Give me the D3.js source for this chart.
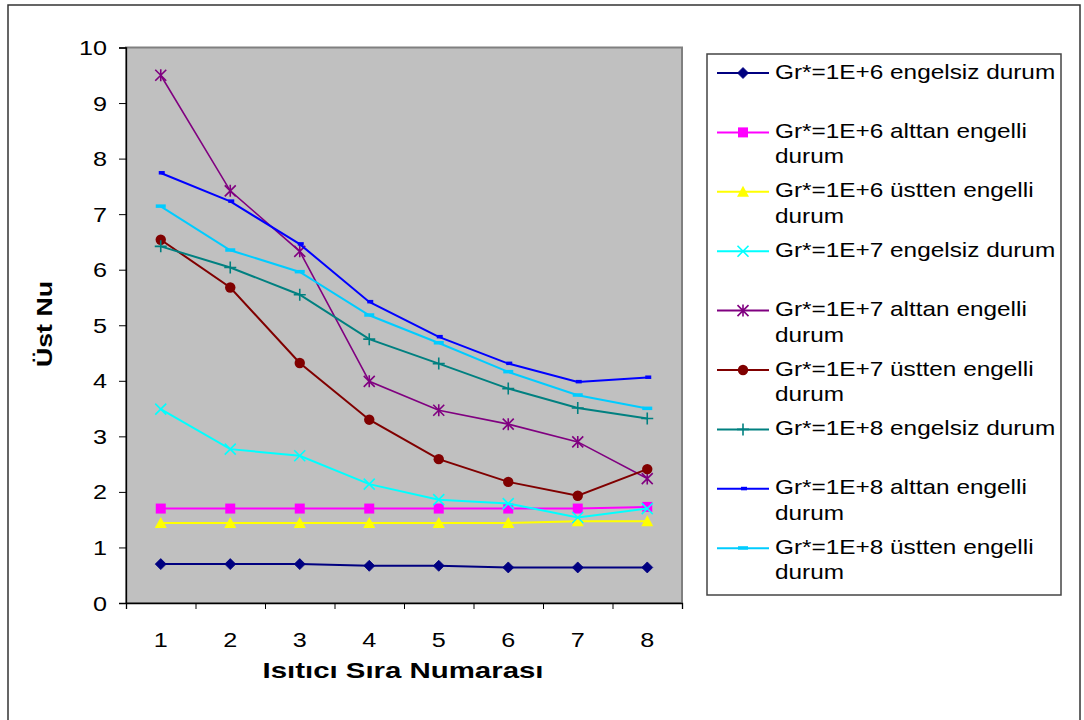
<!DOCTYPE html>
<html><head><meta charset="utf-8">
<script src="https://cdn.jsdelivr.net/npm/d3@7"></script>
<style>body{margin:0;background:#fff} svg{display:block} text{font-family:"Liberation Sans",Arial,sans-serif;fill:#000}</style>
</head><body><svg id="c" width="1084" height="720"></svg>
<script>
const categories = [1, 2, 3, 4, 5, 6, 7, 8];
const yTickValues = [0, 1, 2, 3, 4, 5, 6, 7, 8, 9, 10];
const xTitle = "Isıtıcı Sıra Numarası";
const yTitle = "Üst Nu";

const seriesNames = [
  "Gr*=1E+6 engelsiz durum",
  "Gr*=1E+6 alttan engelli durum",
  "Gr*=1E+6 üstten engelli durum",
  "Gr*=1E+7 engelsiz durum",
  "Gr*=1E+7 alttan engelli durum",
  "Gr*=1E+7 üstten engelli durum",
  "Gr*=1E+8 engelsiz durum",
  "Gr*=1E+8 alttan engelli durum",
  "Gr*=1E+8 üstten engelli durum"
];
const seriesColors = ["#000080", "#FF00FF", "#FFFF00", "#00FFFF", "#800080", "#800000", "#008080", "#0000FF", "#00CCFF"];
const seriesMarkers = ["diamond", "square", "triangle", "x", "star", "circle", "plus", "dashSmall", "dashWide"];

const gr6Engelsiz = [0.70, 0.70, 0.70, 0.67, 0.67, 0.64, 0.64, 0.64];
const gr6Alttan   = [1.70, 1.70, 1.70, 1.70, 1.70, 1.70, 1.70, 1.73];
const gr6Ustten   = [1.44, 1.44, 1.44, 1.44, 1.44, 1.44, 1.47, 1.47];
const gr7Engelsiz = [3.49, 2.77, 2.65, 2.14, 1.86, 1.79, 1.54, 1.70];
const gr7Alttan   = [9.50, 7.42, 6.33, 3.99, 3.47, 3.22, 2.90, 2.24];
const gr7Ustten   = [6.54, 5.68, 4.32, 3.30, 2.59, 2.18, 1.93, 2.41];
const gr8Engelsiz = [6.42, 6.04, 5.55, 4.75, 4.31, 3.86, 3.51, 3.32];
const gr8Alttan   = [7.74, 7.23, 6.46, 5.42, 4.79, 4.31, 3.98, 4.06];
const gr8Ustten   = [7.14, 6.35, 5.96, 5.18, 4.68, 4.16, 3.74, 3.50];
const seriesValues = [gr6Engelsiz, gr6Alttan, gr6Ustten, gr7Engelsiz, gr7Alttan, gr7Ustten, gr8Engelsiz, gr8Alttan, gr8Ustten];

const svg = d3.select("#c");
const P = {l: 126, r: 682, t: 47.5, b: 603};
const SX = 1.2; // horizontal stretch of the reference's text

// outer frame
svg.append("rect").attr("x", 8).attr("y", 5).attr("width", 1072).attr("height", 730)
  .attr("fill", "#fff").attr("stroke", "#333").attr("stroke-width", 1.5);

const x = d3.scaleBand().domain(categories).range([P.l, P.r]);
const xl = d3.scaleLinear().domain([0.5, 8.5]).range([P.l, P.r]);
const y = d3.scaleLinear().domain([0, 10]).range([P.b, P.t]);
const cx = d => x(d) + x.bandwidth() / 2;

// plot area
svg.append("rect").attr("x", P.l).attr("y", P.t).attr("width", P.r - P.l).attr("height", P.b - P.t)
  .attr("fill", "#C0C0C0").attr("stroke", "#808080").attr("stroke-width", 2);

// y axis
const ya = svg.append("g").attr("transform", `translate(${P.l},0)`)
  .call(d3.axisLeft(y).tickValues(yTickValues).tickSize(7).tickFormat(""));
ya.select(".domain").attr("stroke", "#000").attr("stroke-width", 1.3);
ya.selectAll(".tick line").attr("stroke", "#000");
svg.append("g").selectAll("g").data(yTickValues).join("g")
  .attr("transform", d => `translate(107,${y(d)}) scale(${SX},1)`)
  .append("text").attr("text-anchor", "end").attr("dy", "0.36em").attr("font-size", 21).text(d => d);

// x axis ticks at band boundaries
const xa = svg.append("g").attr("transform", `translate(0,${P.b})`)
  .call(d3.axisBottom(xl).tickValues(d3.range(0.5, 9, 1)).tickSize(6).tickFormat(""));
xa.select(".domain").attr("stroke", "#000").attr("stroke-width", 1.3);
xa.selectAll(".tick line").attr("stroke", "#000");
svg.append("g").selectAll("g").data(categories).join("g")
  .attr("transform", d => `translate(${cx(d)},647) scale(${SX},1)`)
  .append("text").attr("text-anchor", "middle").attr("font-size", 21).text(d => d);

// titles
svg.append("text").attr("x", 403).attr("y", 678).attr("text-anchor", "middle")
  .attr("font-size", 22.5).attr("font-weight", "bold")
  .attr("textLength", 281).attr("lengthAdjust", "spacingAndGlyphs").text(xTitle);
svg.append("text").attr("transform", "translate(52,324) rotate(-90)").attr("text-anchor", "middle")
  .attr("font-size", 22.5).attr("font-weight", "bold")
  .attr("textLength", 86).attr("lengthAdjust", "spacingAndGlyphs").text(yTitle);

function drawMarker(g, type, color, px, py) {
  switch (type) {
    case "diamond":
      g.append("path").attr("d", `M${px},${py-5.5}L${px+5.5},${py}L${px},${py+5.5}L${px-5.5},${py}Z`).attr("fill", color).attr("stroke", color).attr("stroke-width", 0.8); break;
    case "square":
      g.append("rect").attr("x", px-5).attr("y", py-5).attr("width", 10).attr("height", 10).attr("fill", color); break;
    case "triangle":
      g.append("path").attr("d", `M${px},${py-6}L${px+6},${py+5}L${px-6},${py+5}Z`).attr("fill", color); break;
    case "x":
      g.append("path").attr("d", `M${px-5.5},${py-5.5}L${px+5.5},${py+5.5}M${px+5.5},${py-5.5}L${px-5.5},${py+5.5}`).attr("stroke", color).attr("stroke-width", 1.6).attr("fill", "none"); break;
    case "star":
      g.append("path").attr("d", `M${px-5.5},${py-5.5}L${px+5.5},${py+5.5}M${px+5.5},${py-5.5}L${px-5.5},${py+5.5}M${px},${py-6}L${px},${py+6}`).attr("stroke", color).attr("stroke-width", 1.6).attr("fill", "none"); break;
    case "circle":
      g.append("circle").attr("cx", px).attr("cy", py).attr("r", 5.2).attr("fill", color); break;
    case "plus":
      g.append("path").attr("d", `M${px-6},${py}L${px+6},${py}M${px},${py-6}L${px},${py+6}`).attr("stroke", color).attr("stroke-width", 1.6).attr("fill", "none"); break;
    case "dashSmall":
      g.append("rect").attr("x", px-2).attr("y", py-2).attr("width", 6).attr("height", 3.5).attr("fill", color); break;
    case "dashWide":
      g.append("rect").attr("x", px-5).attr("y", py-2).attr("width", 10).attr("height", 3.5).attr("fill", color); break;
  }
}

// series
const line = d3.line().x((d, i) => cx(categories[i])).y(d => y(d));
seriesValues.forEach((vals, si) => {
  const g = svg.append("g");
  g.append("path").attr("d", line(vals)).attr("fill", "none").attr("stroke", seriesColors[si]).attr("stroke-width", si === 4 ? 1.6 : 2);
  vals.forEach((v, i) => drawMarker(g, seriesMarkers[si], seriesColors[si], cx(categories[i]), y(v)));
});

// legend
const L = {x: 707, y: 54, w: 354, h: 541};
svg.append("rect").attr("x", L.x).attr("y", L.y).attr("width", L.w).attr("height", L.h)
  .attr("fill", "#fff").attr("stroke", "#444").attr("stroke-width", 1.5);
const LS = 1.16;
const maxW = 282 / LS;
seriesNames.forEach((name, i) => {
  const ly = 73 + i * 59.4;
  const g = svg.append("g");
  g.append("line").attr("x1", 717).attr("x2", 769).attr("y1", ly).attr("y2", ly).attr("stroke", seriesColors[i]).attr("stroke-width", 2);
  drawMarker(g, seriesMarkers[i], seriesColors[i], 743, ly);
  const t = g.append("g").attr("transform", `translate(775,${ly + 5.5}) scale(${LS},1)`)
    .append("text").attr("x", 0).attr("y", 0).attr("font-size", 21);
  const words = name.split(" ");
  let cur = [], lines = [];
  const probe = t.append("tspan");
  words.forEach(w => {
    const test = cur.concat([w]).join(" ");
    probe.text(test);
    if (probe.node().getComputedTextLength() > maxW && cur.length) { lines.push(cur.join(" ")); cur = [w]; }
    else cur.push(w);
  });
  lines.push(cur.join(" "));
  probe.remove();
  lines.forEach((ln, k) => t.append("tspan").attr("x", 0).attr("dy", k === 0 ? 0 : 25.5).text(ln));
});
</script></body></html>
